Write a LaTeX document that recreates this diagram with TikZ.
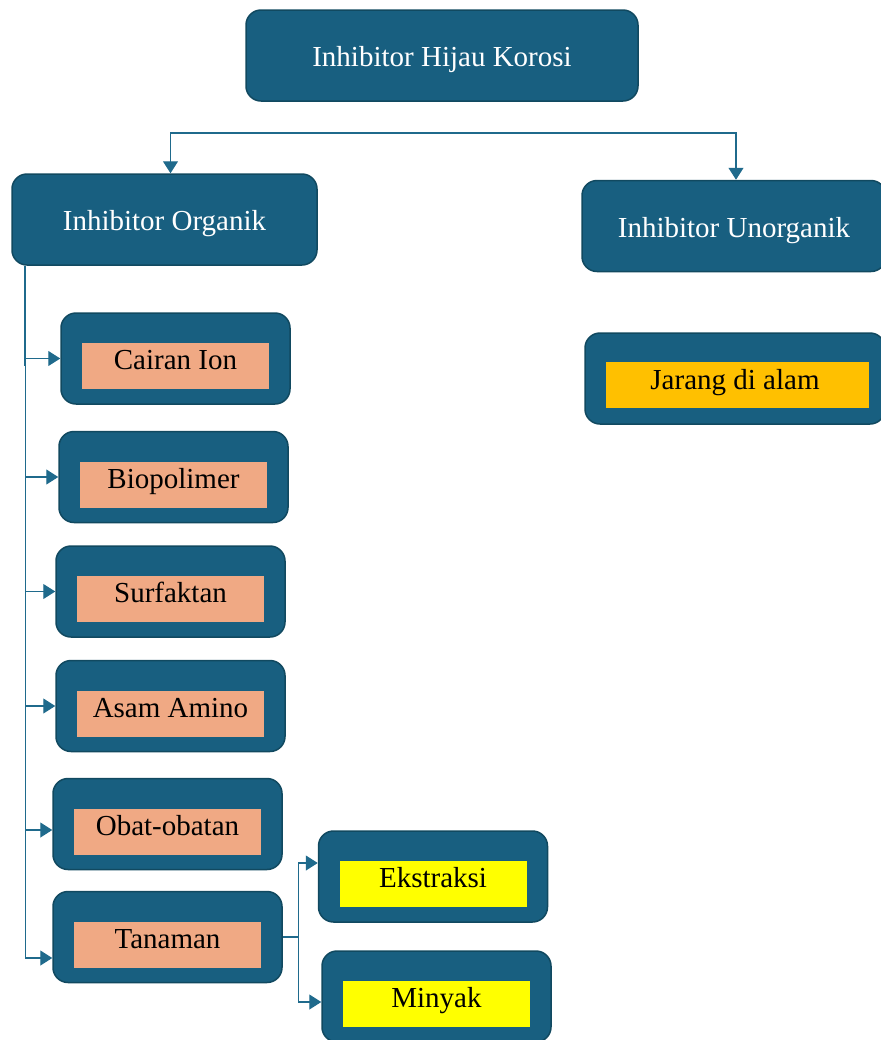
\documentclass[tikz,border=0pt]{standalone}
\usepackage{fontspec}
\setmainfont{Liberation Serif}
\usetikzlibrary{arrows.meta}

\definecolor{boxfill}{HTML}{185F80}
\definecolor{boxline}{HTML}{114960}
\definecolor{linkcol}{HTML}{1F6A8C}
\definecolor{salmon}{HTML}{F0A984}
\definecolor{leafyellow}{HTML}{FFFF00}
\definecolor{leaforange}{HTML}{FFC000}

\tikzset{
	box/.style = {draw = boxline, line width = 0.75pt, fill = boxfill, rounded corners = 7.5pt, minimum height = 45.5pt,
		inner sep = 0pt, text height = 11pt, text depth = 0pt},
	head/.style = {box, text = white},
	leaf/.style = {box, minimum width = 114.5pt,
		path picture = {\fill[#1, sharp corners] ([shift = {(-46.75pt, -15.25pt)}]path picture bounding box.center) rectangle ++(93.5pt, 23pt);}},
	link/.style = {draw = linkcol, line width = 0.6pt},
	arr/.style = {link, -{Triangle[length = 6pt, width = 7.5pt]}}
}

\begin{document}
\begin{tikzpicture}[x = 0.5pt, y = -0.5pt, font = \fontsize{14.5}{17}\selectfont]
	\useasboundingbox (0, 0) rectangle (880, 1040);
	
	\node[head, minimum width = 196pt] (root) at (442, 55.5) {Inhibitor Hijau Korosi};
	\node[head, minimum width = 152.5pt] (organik) at (164.5, 219.5) {Inhibitor Organik};
	\node[head, minimum width = 152pt] (unorganik) at (734, 226) {Inhibitor Unorganik};
	\node[box, minimum width = 150pt,
		path picture = {\fill[leaforange, sharp corners] ([shift = {(-64.5pt, -14.75pt)}]path picture bounding box.center) rectangle ++(131.5pt, 23pt);}]
		(jarang) at (735, 378.5) {Jarang di alam};
	
	\node[leaf = salmon] (cairan) at (175.5, 358.5) {Cairan Ion};
	\node[leaf = salmon] (biopolimer) at (173.5, 477) {Biopolimer};
	\node[leaf = salmon] (surfaktan) at (170.5, 591.5) {Surfaktan};
	\node[leaf = salmon] (asam) at (170.5, 706) {Asam Amino};
	\node[leaf = salmon] (obat) at (167.5, 824) {Obat-obatan};
	\node[leaf = salmon] (tanaman) at (167.5, 937) {Tanaman};
	\node[leaf = leafyellow] (ekstraksi) at (433, 876.5) {Ekstraksi};
	\node[leaf = leafyellow] (minyak) at (436.5, 996.5) {Minyak};
	
	\coordinate (split) at (442, 133);
	\draw[link, {Triangle[length = 6pt, width = 7.5pt]}-{Triangle[length = 6pt, width = 7.5pt]}]
		([xshift = 3pt]organik.north) |- (split) -| ([xshift = 1pt]unorganik.north);
	
	\foreach \name/\dy in {cairan/0, biopolimer/0, surfaktan/0, asam/0, obat/-3, tanaman/-10.5}
		\draw[arr] ([xshift = 7pt]organik.south west) |- ([yshift = \dy pt]\name.west);
	\draw[link, line width = 1pt] ([xshift = 7pt]organik.south west) -- ++(0, 100);
	
	\draw[arr] (tanaman.east) -- ++(16, 0) |- ([yshift = 6.75pt]ekstraksi.west);
	\draw[arr] (tanaman.east) -- ++(16, 0) |- ([yshift = -2.75pt]minyak.west);
\end{tikzpicture}
\end{document}
